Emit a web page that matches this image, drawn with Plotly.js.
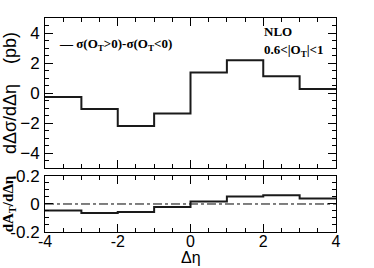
<!DOCTYPE html>
<html><head><meta charset="utf-8">
<script src="https://cdn.plot.ly/plotly-3.0.1.min.js"></script>
<style>html,body{margin:0;padding:0;background:#fff}</style>
</head><body><div id="c" style="width:374px;height:268px"></div>
<script>
var binEdges = [-4,-3,-2,-1,0,1,2,3,4];
var diffValues = [-0.27,-1.07,-2.2,-1.36,1.37,2.18,1.11,0.27];
var asymValues = [-0.047,-0.064,-0.057,-0.021,0.017,0.053,0.062,0.039];
var xTicks = [-4,-2,0,2,4];

function stepY(v){ return v.concat([v[v.length-1]]); }

var tf = {family:'Liberation Sans, Arial, sans-serif', size:17, color:'#000'};
var traces = [
  {x:binEdges, y:stepY(diffValues), mode:'lines', line:{shape:'hv', color:'#1a1a1a', width:2}, xaxis:'x', yaxis:'y', showlegend:false, hoverinfo:'skip'},
  {x:[binEdges[0], binEdges[binEdges.length-1]], y:[0,0], mode:'lines', line:{color:'#000', width:1, dash:'dashdot'}, xaxis:'x2', yaxis:'y2', showlegend:false, hoverinfo:'skip'},
  {x:binEdges, y:stepY(asymValues), mode:'lines', line:{shape:'hv', color:'#1a1a1a', width:2}, xaxis:'x2', yaxis:'y2', showlegend:false, hoverinfo:'skip'}
];
var axCommon = {showline:true, linecolor:'#000', linewidth:1, mirror:'allticks', ticks:'inside', ticklen:8, tickcolor:'#000', showgrid:false, zeroline:false, tickfont:tf};
var layout = {
  width:374, height:268, margin:{l:45, r:38, t:18, b:36},
  paper_bgcolor:'#fff', plot_bgcolor:'#fff', showlegend:false,
  xaxis:Object.assign({}, axCommon, {range:[-4,4], domain:[0,1], anchor:'y', tickvals:xTicks, showticklabels:false, minor:{dtick:0.5, ticks:'inside', ticklen:4, tickcolor:'#000'}}),
  yaxis:Object.assign({}, axCommon, {range:[-5,5], domain:[0.299,1], anchor:'x', tickvals:[-4,-2,0,2,4], ticklabelstandoff:1, minor:{dtick:0.5, ticks:'inside', ticklen:4, tickcolor:'#000'},
    title:{text:'dΔσ/dΔη    (pb)', font:{family:'Liberation Sans, Arial, sans-serif', size:18, color:'#000'}, standoff:4}}),
  xaxis2:Object.assign({}, axCommon, {range:[-4,4], domain:[0,1], anchor:'y2', tickvals:xTicks, ticktext:xTicks.map(String), tickfont:{family:'Liberation Sans, Arial, sans-serif', size:16, color:'#000'}, ticklabelstandoff:-5, minor:{dtick:0.5, ticks:'inside', ticklen:4, tickcolor:'#000'}}),
  yaxis2:Object.assign({}, axCommon, {range:[-0.2,0.2], domain:[0,0.2617], anchor:'x2', tickvals:[-0.2,0,0.2], ticktext:['-0.2','0','0.2'], ticklabelstandoff:1, minor:{dtick:0.05, ticks:'inside', ticklen:4, tickcolor:'#000'},
    title:{text:'<b>dA<sub>T</sub>/dΔη</b>', font:{family:'Liberation Serif, Times New Roman, serif', size:15, color:'#000'}, standoff:2}}),
  annotations:[
    {xref:'paper', yref:'paper', x:0.5, y:-0.168, xanchor:'center', yanchor:'bottom', showarrow:false, text:'Δη', font:{family:'Liberation Sans, Arial, sans-serif', size:16, color:'#000'}},
    {xref:'paper', yref:'paper', x:0.04, y:0.875, xanchor:'left', yanchor:'middle', showarrow:false, text:'<b>— σ(O<sub>T</sub>>0)-σ(O<sub>T</sub><0)</b>', font:{family:'Liberation Serif, Times New Roman, serif', size:13, color:'#000'}},
    {xref:'paper', yref:'paper', x:0.745, y:0.935, xanchor:'left', yanchor:'middle', showarrow:false, text:'<b>NLO</b>', font:{family:'Liberation Serif, Times New Roman, serif', size:13, color:'#000'}},
    {xref:'paper', yref:'paper', x:0.745, y:0.85, xanchor:'left', yanchor:'middle', showarrow:false, text:'<b>0.6<|O<sub>T</sub>|<1</b>', font:{family:'Liberation Serif, Times New Roman, serif', size:13, color:'#000'}}
  ]
};
Plotly.newPlot('c', traces, layout, {staticPlot:true, displayModeBar:false});
</script></body></html>
